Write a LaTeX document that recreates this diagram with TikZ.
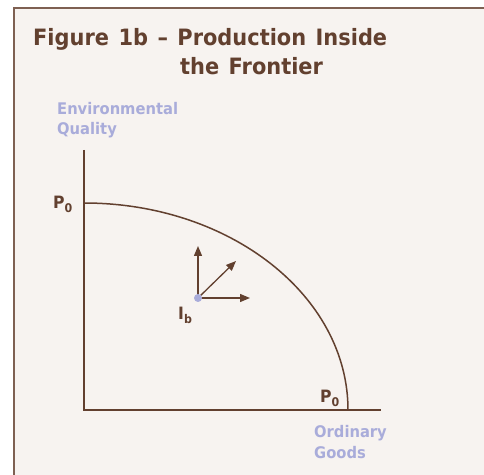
\documentclass[tikz,border=0pt]{standalone}
\usepackage{fontspec}
\setmainfont{DejaVu Sans}[FakeStretch=0.92]
\newfontfamily\ttlfont{DejaVu Sans}[FakeStretch=0.93, WordSpace=1.3]
\usetikzlibrary{arrows.meta}
\definecolor{brn}{HTML}{62402F}
\definecolor{frm}{HTML}{7E6052}
\definecolor{bg}{HTML}{F7F3F0}
\definecolor{lav}{HTML}{A9ACDA}
\tikzset{
  ttl/.style={inner sep=0pt, anchor=base west, text=brn, font=\ttlfont\fontsize{22.5}{26}\selectfont\bfseries},
  axl/.style={inner sep=0pt, anchor=base west, text=lav, font=\fontsize{16}{19}\selectfont\bfseries},
  ptl/.style={inner sep=0pt, anchor=base west, text=brn, font=\fontsize{17}{19}\selectfont\bfseries},
  axis/.style={draw=brn, line width=1.5pt},
  mv/.style={draw=brn, line width=1.3pt, -{Triangle[length=10pt,width=8pt]}},
}
\newcommand{\subz}[1]{\raisebox{-4pt}{\fontsize{12}{13}\selectfont #1}}
\begin{document}
\begin{tikzpicture}[x=1pt,y=1pt]
\useasboundingbox (0,0) rectangle (484,474);
\fill[white] (0,0) rectangle (484,474);
\fill[bg] (14,-5) rectangle (490,466);
\draw[draw=frm, line width=2pt] (14,-5) -- (14,466) -- (490,466);
\node[ttl] (t1) at (33,428) {Figure 1b – Production Inside};
\node[ttl] (t2) at (180,399) {the Frontier};
\node[axl] (eq1) at (57,359) {Environmental};
\node[axl] (eq2) at (57,339) {Quality};
\coordinate (O) at (84,64);
\coordinate (ytop) at (84,324);
\coordinate (xend) at (381,64);
\draw[axis] (ytop) -- (O) -- (xend);
\coordinate (P0a) at (84,271);
\draw[axis] (P0a) arc[start angle=90, end angle=0, x radius=264, y radius=207] coordinate (P0b);
\node[ptl] (lp1) at (53,265) {P\subz{0}};
\node[ptl] (lp2) at (320,72) {P\subz{0}};
\node[axl] (og1) at (314,37) {Ordinary};
\node[axl] (og2) at (314,16) {Goods};
\coordinate (up) at (198,228);
\coordinate (rt) at (250,176);
\coordinate (dg) at (236,213);
\draw[mv] (198,176) -- (up);
\draw[mv] (198,176) -- (rt);
\draw[mv] (198,176) -- (dg);
\node[circle, fill=lav, inner sep=0pt, minimum size=8pt] (Ib) at (198,176) {};
\node[ptl] (lib) at (178,154) {I\subz{b}};
\end{tikzpicture}
\end{document}
